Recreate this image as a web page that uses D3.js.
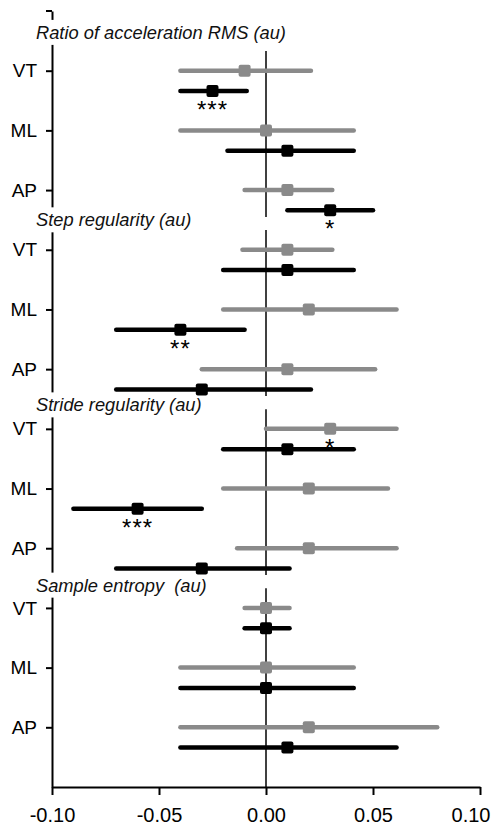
<!DOCTYPE html>
<html>
<head>
<meta charset="utf-8">
<script src="https://cdn.jsdelivr.net/npm/d3@7"></script>
<style>
  body { margin: 0; background: #fff; }
  svg { display: block; font-family: "Liberation Sans", Arial, sans-serif; }
</style>
</head>
<body>
<svg id="chart"></svg>
<script>
// categories
var rowNames = ["VT", "ML", "AP"];
var panelTitles = ["Ratio of acceleration RMS (au)", "Step regularity (au)", "Stride regularity (au)", "Sample entropy  (au)"];
var xTicks = [-0.10, -0.05, 0.00, 0.05, 0.10];

// gray series (estimate, lower, upper) per row, panels in order
var grayEst = [-0.01, 0.00, 0.01, 0.01, 0.02, 0.01, 0.03, 0.02, 0.02, 0.00, 0.00, 0.02];
var grayLo = [-0.04, -0.04, -0.01, -0.011, -0.02, -0.03, 0.00, -0.02, -0.0135, -0.01, -0.04, -0.04];
var grayHi = [0.021, 0.041, 0.031, 0.031, 0.061, 0.051, 0.061, 0.057, 0.061, 0.011, 0.041, 0.08];
var graySig = ["", "", "", "", "", "", "*", "", "", "", "", ""];

// black series
var blackEst = [-0.025, 0.01, 0.03, 0.01, -0.04, -0.03, 0.01, -0.06, -0.03, 0.00, 0.00, 0.01];
var blackLo = [-0.04, -0.018, 0.01, -0.02, -0.07, -0.07, -0.02, -0.09, -0.07, -0.01, -0.04, -0.04];
var blackHi = [-0.009, 0.041, 0.05, 0.041, -0.01, 0.021, 0.041, -0.03, 0.011, 0.011, 0.041, 0.061];
var blackSig = ["***", "", "*", "", "**", "", "", "***", "", "", "", ""];

// where each title sits, in row units relative to its first row
var titleOffset = [-0.64, -0.5, -0.4, -0.38];

var width = 492, height = 828;
var svg = d3.select("#chart").attr("width", width).attr("height", height);

var x = d3.scaleLinear().domain([-0.1, 0.1]).range([52, 480]);
var y = d3.scaleLinear().domain([-1, 12]).range([11, 787]);
var blackShift = 0.34;
var gray = "#8a8a8a";

function buildSeries(est, lo, hi, sig, shift, color) {
    return est.map(function (d, i) {
        return { row: i + shift, est: d, lo: lo[i], hi: hi[i], sig: sig[i], color: color };
    });
}
var series = buildSeries(grayEst, grayLo, grayHi, graySig, 0, gray)
    .concat(buildSeries(blackEst, blackLo, blackHi, blackSig, blackShift, "#000"));

// zero reference line, one piece per panel
svg.append("g").selectAll("line")
    .data(panelTitles).enter()
    .append("line")
    .attr("x1", x(0)).attr("x2", x(0))
    .attr("y1", function (d, p) { return y(p * 3 - 0.33); })
    .attr("y2", function (d, p) { return p == 3 ? y(12) : y(p * 3 + 2.45); })
    .attr("stroke", "#000")
    .attr("stroke-width", 1.5);

// left axis
var yAxis = d3.axisLeft(y)
    .tickValues(d3.range(12))
    .tickFormat(function (i) { return rowNames[i % 3]; })
    .tickSize(6)
    .tickSizeOuter(0)
    .tickPadding(9);
var gy = svg.append("g").attr("transform", "translate(" + x(-0.1) + ",0)").call(yAxis);
gy.select(".domain").attr("stroke-width", 2);
gy.selectAll(".tick line").attr("stroke-width", 2);
gy.selectAll(".tick text").attr("font-size", 19).attr("fill", "#000").attr("font-family", "Liberation Sans, Arial, sans-serif");
gy.append("line").attr("x1", -6).attr("x2", 0).attr("y1", y(-1)).attr("y2", y(-1))
    .attr("stroke", "#000").attr("stroke-width", 2);

// bottom axis
var xAxis = d3.axisBottom(x)
    .tickValues(xTicks)
    .tickFormat(function (d) { return d.toFixed(2); })
    .tickSize(8)
    .tickSizeOuter(0)
    .tickPadding(13);
var gx = svg.append("g").attr("transform", "translate(0," + y(12) + ")").call(xAxis);
gx.select(".domain").attr("stroke-width", 2);
gx.selectAll(".tick line").attr("stroke-width", 2);
gx.selectAll(".tick text").attr("font-size", 20).attr("fill", "#000").attr("font-family", "Liberation Sans, Arial, sans-serif");
// keep the last label inside the picture
gx.selectAll(".tick text").filter(function (d) { return d == 0.1; })
    .attr("text-anchor", "end").attr("dx", 10);

// panel titles with white box behind them
var titles = svg.append("g").selectAll("g")
    .data(panelTitles).enter()
    .append("g");
titles.append("text")
    .attr("x", 36)
    .attr("y", function (d, p) { return y(p * 3 + titleOffset[p]); })
    .attr("dy", "0.35em")
    .attr("font-size", 18.3)
    .attr("font-style", "italic")
    .attr("fill", "#111")
    .style("white-space", "pre")
    .text(function (d) { return d; });
titles.each(function () {
    var t = d3.select(this).select("text");
    var b = t.node().getBBox();
    d3.select(this).insert("rect", "text")
        .attr("x", b.x - 2).attr("y", b.y - 2)
        .attr("width", b.width + 4).attr("height", b.height + 4)
        .attr("fill", "#fff");
});

// intervals
var marks = svg.append("g");
marks.selectAll("line.ci")
    .data(series).enter()
    .append("line")
    .attr("class", "ci")
    .attr("x1", function (d) { return x(d.lo); })
    .attr("x2", function (d) { return x(d.hi); })
    .attr("y1", function (d) { return y(d.row); })
    .attr("y2", function (d) { return y(d.row); })
    .attr("stroke", function (d) { return d.color; })
    .attr("stroke-width", 4.5)
    .attr("stroke-linecap", "round");

marks.selectAll("rect.pt")
    .data(series).enter()
    .append("rect")
    .attr("class", "pt")
    .attr("x", function (d) { return x(d.est) - 6; })
    .attr("y", function (d) { return y(d.row) - 6; })
    .attr("width", 12).attr("height", 12)
    .attr("rx", 2)
    .attr("fill", function (d) { return d.color; });

marks.selectAll("text.sig")
    .data(series.filter(function (d) { return d.sig != ""; })).enter()
    .append("text")
    .attr("class", "sig")
    .attr("x", function (d) { return x(d.est); })
    .attr("y", function (d) { return y(d.row) + 27; })
    .attr("text-anchor", "middle")
    .attr("font-size", 24)
    .attr("letter-spacing", 1)
    .attr("fill", "#000")
    .text(function (d) { return d.sig; });
</script>
</body>
</html>
